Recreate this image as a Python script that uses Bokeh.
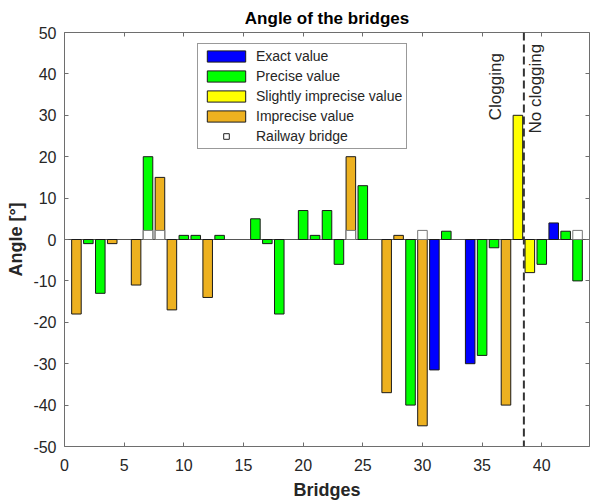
import math

from bokeh.embed import file_html
from bokeh.models import (ColumnDataSource, Label, Legend, LegendItem,
                          LinearAxis, Range1d, Span)
from bokeh.plotting import figure
from bokeh.resources import INLINE

# Measured angle per bridge and how reliable the measurement is
bridges = [1, 2, 3, 4, 6, 7, 8, 9, 10, 11, 12, 13, 16, 17, 18, 20, 21, 22, 23,
           24, 25, 27, 28, 29, 30, 31, 32, 34, 35, 36, 37, 38, 39, 40, 41, 42, 43]
angles = [-18, -1, -13, -1, -11, 20, 15, -17, 1, 1, -14, 1, 5, -1, -18, 7, 1, 7, -6,
          20, 13, -37, 1, -40, -45, -31.5, 2, -30, -28, -2, -40, 30, -8, -6, 4, 2, -10]
quality = ["imprecise", "precise", "precise", "imprecise", "imprecise", "precise",
           "imprecise", "imprecise", "precise", "precise", "imprecise", "precise",
           "precise", "precise", "precise", "precise", "precise", "precise", "precise",
           "imprecise", "precise", "imprecise", "imprecise", "precise", "imprecise",
           "exact", "precise", "exact", "precise", "precise", "imprecise", "slight",
           "slight", "precise", "exact", "precise", "precise"]

# Railway bridges get a small white marker at the base line
railway_bridges = [7, 8, 24, 30, 43]
railway_mark_height = 2.2

quality_keys = ["exact", "precise", "slight", "imprecise"]
quality_labels = ["Exact value", "Precise value", "Slightly imprecise value", "Imprecise value"]
quality_colors = ["#0000ff", "#00ff00", "#ffff00", "#edb120"]

x_ticks = [0, 5, 10, 15, 20, 25, 30, 35, 40]
y_ticks = [-50, -40, -30, -20, -10, 0, 10, 20, 30, 40, 50]

# Split between clogging and non-clogging bridges
clogging_split = 38.5

FONT = "Liberation Sans"
TEXT = "#262626"
AXIS = "#6e6e6e"

p = figure(width=590, height=503, x_range=Range1d(0, 44), y_range=Range1d(-50, 50),
           output_backend="svg", toolbar_location=None,
           min_border_left=64, min_border_right=1, min_border_top=32, min_border_bottom=57)
p.background_fill_color = "white"
p.border_fill_color = "white"
p.outline_line_color = None
p.xgrid.grid_line_color = None
p.ygrid.grid_line_color = None

p.title.text = "Angle of the bridges"
p.title.align = "center"
p.title.text_font = FONT
p.title.text_font_size = "17px"
p.title.text_font_style = "bold"
p.title.text_color = "black"

# Zero base line under the bars
p.add_layout(Span(location=0, dimension="width", line_color="#555555", line_width=1,
                  level="underlay"))

renderers = []
for key, color in zip(quality_keys, quality_colors):
    xs = [b for b, q in zip(bridges, quality) if q == key]
    ys = [a for a, q in zip(angles, quality) if q == key]
    src = ColumnDataSource(dict(x=xs, top=ys))
    r = p.vbar(x="x", top="top", bottom=0, width=0.8, source=src,
               fill_color=color, line_color="#1a1a1a", line_width=1)
    renderers.append(r)

rail_src = ColumnDataSource(dict(x=railway_bridges,
                                 top=[railway_mark_height] * len(railway_bridges)))
p.vbar(x="x", top="top", bottom=0, width=0.8, source=rail_src,
       fill_color="white", line_color="#777777", line_width=1)

# Legend-only marker for railway bridges (NaN point: nothing drawn in the plot)
rail_key = p.scatter(x=[float("nan")], y=[float("nan")], marker="square", size=8,
                     fill_color="white", line_color="#222222", line_width=1)

p.add_layout(Span(location=clogging_split, dimension="height", line_color="#333333",
                  line_width=2, line_dash="8 4"))

p.add_layout(Label(x=36.15, y=28.8, text="Clogging", angle=math.pi / 2,
                   text_align="left", text_baseline="alphabetic",
                   text_font=FONT, text_font_size="17px", text_color=TEXT))
p.add_layout(Label(x=39.45, y=25.6, text="No clogging", angle=math.pi / 2,
                   text_align="left", text_baseline="alphabetic",
                   text_font=FONT, text_font_size="17px", text_color=TEXT))

# Axes: labelled bottom/left, tick-only top/right (boxed frame, inward ticks)
for ax in (p.xaxis[0], p.yaxis[0]):
    ax.major_tick_in = 4
    ax.major_tick_out = 0
    ax.minor_tick_in = 0
    ax.minor_tick_out = 0
    ax.axis_line_color = AXIS
    ax.major_tick_line_color = AXIS
    ax.major_label_text_font = FONT
    ax.major_label_text_font_size = "16px"
    ax.major_label_text_color = TEXT
    ax.axis_label_text_font = FONT
    ax.axis_label_text_font_size = "18px"
    ax.axis_label_text_font_style = "bold"
    ax.axis_label_text_color = TEXT

p.xaxis.ticker = x_ticks
p.yaxis.ticker = y_ticks
p.xaxis.major_label_overrides = {t: str(t) for t in x_ticks}
p.yaxis.major_label_overrides = {t: str(t) for t in y_ticks}
p.xaxis.axis_label = "Bridges"
p.yaxis.axis_label = "Angle [°]"
p.xaxis.major_label_standoff = 12
p.yaxis.major_label_standoff = 8
p.xaxis.axis_label_standoff = 6
p.yaxis.axis_label_standoff = 4

for ticks, side in ((x_ticks, "above"), (y_ticks, "right")):
    p.add_layout(LinearAxis(ticker=ticks, major_tick_in=4, major_tick_out=0,
                            minor_tick_in=0, minor_tick_out=0, axis_line_color=AXIS,
                            major_tick_line_color=AXIS, major_label_text_color=None,
                            major_label_text_font_size="1px", major_label_standoff=0), side)

items = [LegendItem(label=lab, renderers=[r]) for lab, r in zip(quality_labels, renderers)]
items.append(LegendItem(label="Railway bridge", renderers=[rail_key]))
legend = Legend(items=items, location=(133, 297), glyph_width=48, glyph_height=14,
                label_height=14, spacing=4, padding=4, margin=0, label_standoff=6,
                label_text_font=FONT, label_text_font_size="14px", label_text_color=TEXT,
                border_line_color="#333333", border_line_width=1,
                background_fill_color="white", background_fill_alpha=1)
p.add_layout(legend)

open("out.html", "w").write(file_html(p, INLINE))
